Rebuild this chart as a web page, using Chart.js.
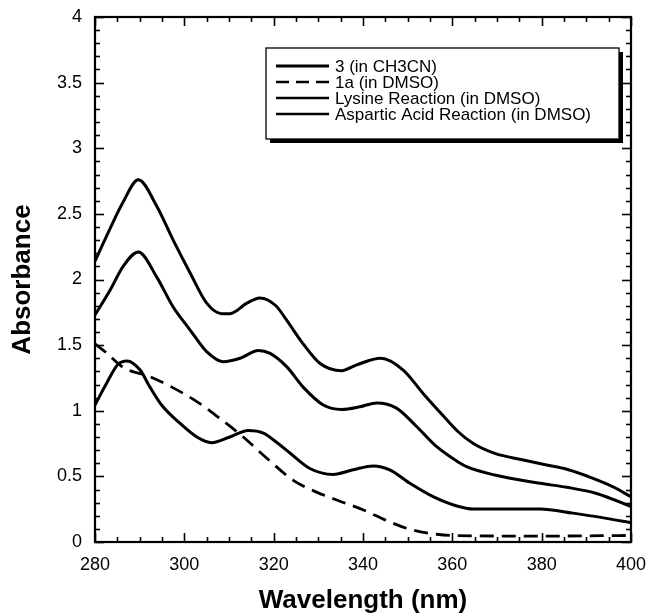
<!DOCTYPE html>
<html><head><meta charset="utf-8">
<script src="https://cdn.jsdelivr.net/npm/chart.js@4.4.1/dist/chart.umd.min.js"></script>
<style>html,body{margin:0;padding:0;background:#fff}</style>
</head><body>
<canvas id="c" width="652" height="616"></canvas>
<script>
// ---- data ----
const seriesLabels = ['3 (in CH3CN)', '1a (in DMSO)', 'Lysine Reaction (in DMSO)', 'Aspartic Acid Reaction (in DMSO)'];

const wave3 = [280, 282.6, 285.2, 287.2, 290.1, 292.3, 294.9, 299.0, 302.8, 306.1, 310.2, 314.3, 317.7, 321.0, 323.7, 328.1, 333.3, 337.8, 342.3, 346.0, 350.5, 355.7, 361.0, 364.7, 379.6, 387.0, 394.5, 400];
const abs3  = [1.044, 1.21, 1.356, 1.38, 1.31, 1.18, 1.044, 0.905, 0.80, 0.757, 0.80, 0.85, 0.83, 0.75, 0.676, 0.56, 0.515, 0.55, 0.58, 0.55, 0.447, 0.345, 0.274, 0.251, 0.251, 0.22, 0.18, 0.147];

const wave1a = [280, 282.6, 286.3, 292.3, 297.2, 302.8, 308.0, 313.2, 318.4, 324.4, 329.6, 334.1, 340.1, 345.3, 350.5, 356.5, 361.0, 380.0, 400];
const abs1a  = [1.51, 1.44, 1.33, 1.26, 1.18, 1.07, 0.94, 0.80, 0.64, 0.47, 0.38, 0.32, 0.244, 0.163, 0.097, 0.059, 0.048, 0.045, 0.05];

const waveLys = [280, 283.4, 286.3, 289.7, 293.8, 297.5, 301.3, 305.0, 308.7, 312.5, 316.6, 319.2, 322.9, 326.6, 331.1, 335.2, 339.3, 343.1, 347.5, 352.0, 356.5, 361.3, 363.2, 369.5, 379.6, 385.6, 392.3, 400];
const absLys  = [1.73, 1.92, 2.10, 2.21, 2.02, 1.79, 1.615, 1.45, 1.374, 1.40, 1.46, 1.437, 1.336, 1.18, 1.044, 1.01, 1.03, 1.06, 1.02, 0.88, 0.726, 0.61, 0.574, 0.51, 0.447, 0.417, 0.37, 0.27];

const waveAsp = [280, 283.4, 286.3, 289.7, 293.8, 297.5, 301.3, 305.0, 308.4, 310.2, 314.0, 316.9, 320.5, 322.9, 326.6, 330.4, 335.2, 338.6, 344.0, 349.0, 353.5, 358.0, 361.3, 364.7, 369.5, 375.9, 381.1, 385.6, 391.5, 396.0, 400];
const absAsp  = [2.14, 2.39, 2.59, 2.76, 2.56, 2.30, 2.05, 1.82, 1.74, 1.74, 1.82, 1.86, 1.80, 1.69, 1.51, 1.36, 1.305, 1.35, 1.40, 1.31, 1.13, 0.96, 0.84, 0.75, 0.675, 0.625, 0.587, 0.554, 0.485, 0.42, 0.345];

const xTickLabels = [280, 300, 320, 340, 360, 380, 400];
const yTickLabels = [0, 0.5, 1, 1.5, 2, 2.5, 3, 3.5, 4];

// ---- build datasets ----
const pts = (xs, ys) => xs.map((x, i) => ({x: x, y: ys[i]}));
const base = {borderColor: '#000', backgroundColor: '#000', pointRadius: 0, borderWidth: 3, fill: false, cubicInterpolationMode: 'monotone'};
const datasets = [
  Object.assign({}, base, {label: seriesLabels[0], data: pts(wave3, abs3)}),
  Object.assign({}, base, {label: seriesLabels[1], data: pts(wave1a, abs1a), borderDash: [14, 8], borderWidth: 2.8}),
  Object.assign({}, base, {label: seriesLabels[2], data: pts(waveLys, absLys)}),
  Object.assign({}, base, {label: seriesLabels[3], data: pts(waveAsp, absAsp)})
];

// frame + inward ticks on all four sides
const framePlugin = {
  id: 'frame',
  afterDatasetsDraw(chart) {
    const ctx = chart.ctx, a = chart.chartArea, xs = chart.scales.x, ys = chart.scales.y;
    ctx.save();
    ctx.strokeStyle = '#000';
    ctx.lineWidth = 1.6;
    for (let v = 280; v <= 400; v += 5) {
      const p = Math.round(xs.getPixelForValue(v)) + 0.5;
      const len = (v % 20 === 0) ? 9 : 5;
      ctx.beginPath(); ctx.moveTo(p, a.bottom); ctx.lineTo(p, a.bottom - len); ctx.stroke();
      ctx.beginPath(); ctx.moveTo(p, a.top); ctx.lineTo(p, a.top + len); ctx.stroke();
    }
    for (let i = 0; i <= 40; i++) {
      const v = i / 10;
      const p = Math.round(ys.getPixelForValue(v)) + 0.5;
      const len = (i % 5 === 0) ? 9 : 5;
      ctx.beginPath(); ctx.moveTo(a.left, p); ctx.lineTo(a.left + len, p); ctx.stroke();
      ctx.beginPath(); ctx.moveTo(a.right, p); ctx.lineTo(a.right - len, p); ctx.stroke();
    }
    ctx.lineWidth = 2.2;
    ctx.strokeRect(a.left, a.top, a.right - a.left, a.bottom - a.top);
    ctx.restore();
  }
};

// boxed legend with drop shadow
const legendPlugin = {
  id: 'boxLegend',
  afterDraw(chart) {
    const ctx = chart.ctx, a = chart.chartArea;
    const L = a.left + 171, T = a.top + 31, W = 353, H = 91;
    ctx.save();
    ctx.fillStyle = '#000';
    ctx.fillRect(L + 4, T + 4, W, H);
    ctx.fillStyle = '#fff';
    ctx.fillRect(L, T, W, H);
    ctx.strokeStyle = '#000';
    ctx.lineWidth = 1.3;
    ctx.strokeRect(L, T, W, H);
    ctx.font = '17px "Liberation Sans", Arial, sans-serif';
    ctx.textBaseline = 'middle';
    ctx.fillStyle = '#000';
    chart.data.datasets.forEach((ds, i) => {
      const y = T + 18 + i * 16;
      ctx.lineWidth = i === 0 ? 3 : 2.4;
      ctx.setLineDash(ds.borderDash ? [13, 7] : []);
      ctx.beginPath(); ctx.moveTo(L + 10, y); ctx.lineTo(L + 63, y); ctx.stroke();
      ctx.setLineDash([]);
      ctx.fillText(ds.label, L + 69, y + 1);
    });
    ctx.restore();
  }
};

new Chart(document.getElementById('c'), {
  type: 'line',
  data: {datasets: datasets},
  options: {
    responsive: false,
    animation: false,
    devicePixelRatio: 1,
    layout: {padding: {top: 17, right: 21, left: 0, bottom: 0}},
    plugins: {legend: {display: false}, tooltip: {enabled: false}},
    scales: {
      x: {
        type: 'linear', min: 280, max: 400,
        afterBuildTicks: s => { s.ticks = xTickLabels.map(v => ({value: v})); },
        afterFit: s => { s.height = 74; s.paddingLeft = 0; s.paddingRight = 0; },
        grid: {display: false, drawTicks: false},
        border: {display: false},
        ticks: {color: '#000', padding: 12, maxRotation: 0, font: {family: '"Liberation Sans", Arial, sans-serif', size: 18}},
        title: {display: true, text: 'Wavelength (nm)', color: '#000', padding: {top: 0, bottom: 0}, font: {family: '"Liberation Sans", Arial, sans-serif', size: 26, weight: 'bold'}}
      },
      y: {
        type: 'linear', min: 0, max: 4,
        afterBuildTicks: s => { s.ticks = yTickLabels.map(v => ({value: v})); },
        afterFit: s => { s.width = 95; s.paddingTop = 0; s.paddingBottom = 0; },
        grid: {display: false, drawTicks: false},
        border: {display: false},
        ticks: {color: '#000', padding: 13, callback: v => String(v), font: {family: '"Liberation Sans", Arial, sans-serif', size: 18}},
        title: {display: true, text: 'Absorbance', color: '#000', padding: {top: 7, bottom: 0}, font: {family: '"Liberation Sans", Arial, sans-serif', size: 26, weight: 'bold'}}
      }
    }
  },
  plugins: [framePlugin, legendPlugin]
});
</script>
</body></html>
